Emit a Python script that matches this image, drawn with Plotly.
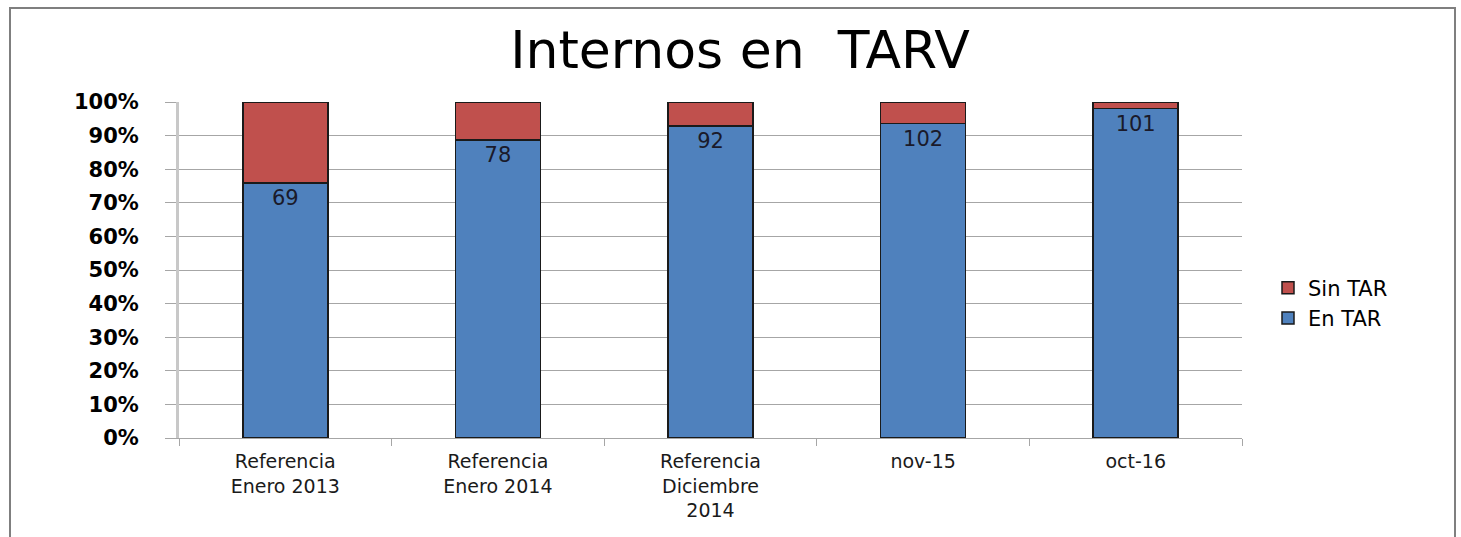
import plotly.graph_objects as go

categories = ["Referencia<br>Enero 2013", "Referencia<br>Enero 2014", "Referencia<br>Diciembre<br>2014", "nov-15", "oct-16"]
en_tar = [69, 78, 92, 102, 101]
sin_tar = [22, 10, 7, 7, 2]

BLUE = "#4F81BD"
RED = "#C0504D"
FONT = "DejaVu Sans"

fig = go.Figure()
fig.add_trace(go.Bar(
    name="En TAR", x=categories, y=en_tar,
    marker=dict(color=BLUE, line=dict(color="#1a1a1a", width=1.5)),
    text=[str(v) for v in en_tar], textposition="inside", insidetextanchor="end",
    textangle=0, constraintext="none",
    textfont=dict(family=FONT, size=21, color="#1a1a2a"),
))
fig.add_trace(go.Bar(
    name="Sin TAR", x=categories, y=sin_tar,
    marker=dict(color=RED, line=dict(color="#1a1a1a", width=1.5)),
))

L, R, T, B = 179, 219, 102, 99
W, H = 1461, 537
pw, ph = W - L - R, H - T - B

fig.update_layout(
    width=W, height=H,
    barmode="stack", barnorm="percent", bargap=0.6,
    margin=dict(l=L, r=R, t=T, b=B),
    paper_bgcolor="white", plot_bgcolor="white",
    font=dict(family=FONT, color="black"),
    title=dict(text="Internos en  TARV", x=(740 - L) / pw, xref="paper", xanchor="center",
               y=1 - 50 / H, yanchor="middle",
               font=dict(family=FONT, size=52, color="black")),
    legend=dict(x=(1268 - L) / pw, y=(438 - 303) / ph, xanchor="left", yanchor="middle",
                traceorder="reversed", font=dict(family=FONT, size=21),
                itemwidth=30, tracegroupgap=0),
    showlegend=True,
)
fig.update_yaxes(
    range=[0, 100], dtick=10, ticksuffix="%",
    showgrid=True, gridcolor="#A6A6A6", gridwidth=1,
    showline=True, linecolor="#C8C8C8", linewidth=3,
    ticks="outside", ticklen=11, tickcolor="#A6A6A6",
    ticklabelstandoff=22,
    tickfont=dict(family=FONT, size=21, color="black", weight="bold"),
    zeroline=False,
)
fig.update_xaxes(
    showline=True, linecolor="#A6A6A6", linewidth=1,
    ticks="outside", tickson="boundaries", ticklen=7, tickcolor="#A6A6A6",
    ticklabelstandoff=6,
    tickfont=dict(family=FONT, size=19, color="#1a1a1a"),
)

# outer chart border
fig.add_shape(type="rect", xref="paper", yref="paper",
              x0=(10 - L) / pw, x1=(1455 - L) / pw,
              y0=(438 - 560) / ph, y1=(438 - 8) / ph,
              line=dict(color="#7F7F7F", width=2), fillcolor="rgba(0,0,0,0)", layer="below")

fig.write_html("out.html", config={"displayModeBar": False},
               post_script="document.body.style.margin='0px';")
